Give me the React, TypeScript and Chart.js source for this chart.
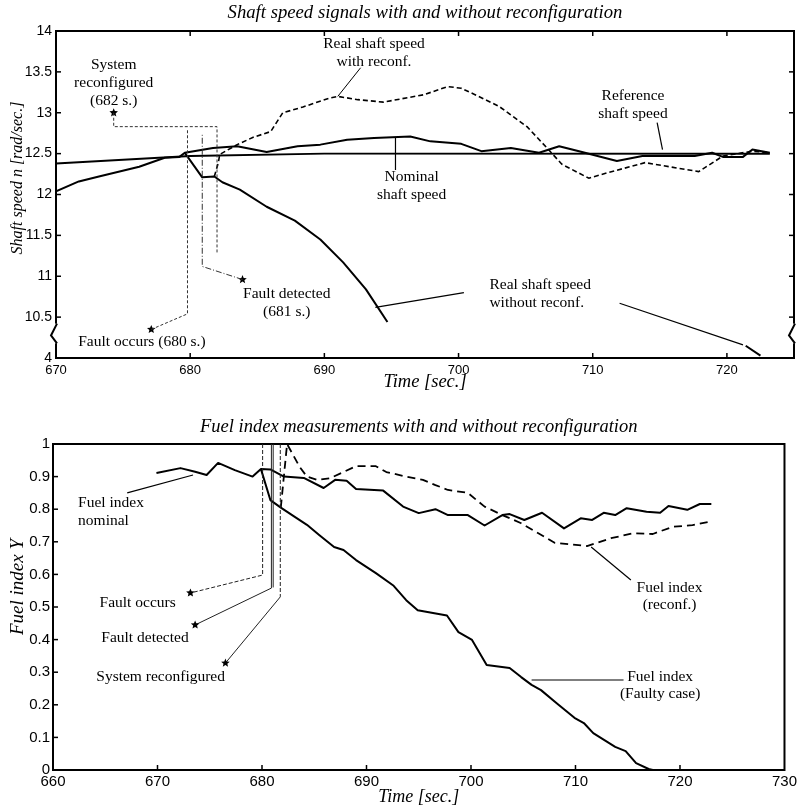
import React, { useEffect, useRef } from 'react';
import { Chart, registerables } from 'chart.js';

Chart.register(...registerables);

// ---------------- Top chart: shaft speed ----------------
const topXTicks = [670, 680, 690, 700, 710, 720];
const topYTicks = [10, 10.5, 11, 11.5, 12, 12.5, 13, 13.5, 14];
const topYTickLabels = ['4', '10.5', '11', '11.5', '12', '12.5', '13', '13.5', '14'];
// broken axis: values below the break are drawn shifted so that 4 sits on the "4" tick
const BREAK_LOW = 10;
const BREAK_SHIFT = 6;

const refTime = [670, 680, 690, 723.2];
const refSpeed = [12.38, 12.47, 12.5, 12.5];

const nomTime = [670, 671.7, 673.2, 676.2, 678.1, 679.2, 679.6, 681.7, 683.5, 685.7, 688.0, 689.7, 691.7, 693.7, 696.4, 697.9, 700.2, 701.7, 703.9, 706.0, 707.5, 709.2, 711.8, 713.7, 717.6, 718.9, 719.7, 721.2, 721.9, 723.2];
const nomSpeed = [12.04, 12.16, 12.22, 12.34, 12.45, 12.46, 12.51, 12.57, 12.59, 12.52, 12.59, 12.61, 12.67, 12.69, 12.71, 12.65, 12.62, 12.53, 12.57, 12.51, 12.59, 12.52, 12.41, 12.47, 12.47, 12.51, 12.46, 12.46, 12.55, 12.51];

const faultTime = [679.6, 680.9, 681.8, 682.4, 683.7, 685.7, 687.8, 689.7, 691.4, 693.1, 694.7];
const faultSpeed = [12.51, 12.21, 12.22, 12.15, 12.06, 11.85, 11.68, 11.45, 11.17, 10.84, 10.44];
const faultTailTime = [721.4, 722.5];
const faultTailSpeed = [4.15, 4.03];

const reconfTime = [681.8, 682.1, 682.2, 683.5, 684.7, 686.0, 686.9, 688.4, 690.4, 691.0, 692.5, 694.4, 697.4, 699.2, 700.2, 701.5, 703.0, 705.1, 706.7, 707.7, 709.7, 711.2, 713.9, 715.7, 717.9, 719.7, 721.9, 723.2];
const reconfSpeed = [12.22, 12.39, 12.49, 12.61, 12.7, 12.77, 13.0, 13.07, 13.18, 13.2, 13.16, 13.13, 13.22, 13.32, 13.3, 13.2, 13.08, 12.83, 12.55, 12.37, 12.2, 12.27, 12.39, 12.34, 12.28, 12.47, 12.53, 12.51];

// ---------------- Bottom chart: fuel index ----------------
const botXTicks = [660, 670, 680, 690, 700, 710, 720, 730];
const botYTicks = [0, 0.1, 0.2, 0.3, 0.4, 0.5, 0.6, 0.7, 0.8, 0.9, 1];
const botYTickLabels = ['0', '0.1', '0.2', '0.3', '0.4', '0.5', '0.6', '0.7', '0.8', '0.9', '1'];

const fuelNomTime = [669.9, 672.2, 673.6, 674.7, 675.8, 677.4, 679.1, 679.9, 680.8, 682.1, 684.0, 685.9, 687.0, 688.1, 689.0, 691.6, 693.5, 695.0, 696.6, 697.8, 699.7, 701.3, 703.0, 703.7, 705.1, 706.8, 708.9, 710.5, 711.6, 712.7, 713.8, 714.9, 716.8, 718.1, 718.9, 720.7, 721.9, 723.0];
const fuelNomValue = [0.911, 0.926, 0.915, 0.905, 0.942, 0.92, 0.9, 0.923, 0.922, 0.9, 0.896, 0.865, 0.89, 0.887, 0.862, 0.857, 0.808, 0.788, 0.8, 0.782, 0.782, 0.75, 0.782, 0.785, 0.767, 0.789, 0.741, 0.772, 0.767, 0.789, 0.782, 0.803, 0.792, 0.789, 0.81, 0.798, 0.816, 0.816];

const fuelFaultTime = [679.9, 680.8, 681.8, 683.1, 684.3, 685.5, 686.9, 687.8, 689.0, 690.9, 692.6, 693.8, 694.9, 697.7, 698.8, 700.1, 701.5, 703.7, 704.8, 705.8, 706.7, 708.2, 709.9, 710.8, 711.7, 713.8, 714.8, 715.8, 717.0, 717.4, 722.9];
const fuelFaultValue = [0.923, 0.828, 0.805, 0.777, 0.752, 0.72, 0.684, 0.675, 0.644, 0.604, 0.565, 0.521, 0.49, 0.474, 0.423, 0.399, 0.322, 0.313, 0.285, 0.261, 0.245, 0.205, 0.16, 0.144, 0.113, 0.071, 0.058, 0.021, 0.003, 0, 0];

const fuelReconfTime = [681.8, 682.4, 683.6, 684.3, 685.3, 686.5, 687.8, 689.0, 690.9, 691.9, 693.8, 695.4, 696.6, 697.8, 699.7, 701.3, 703.0, 704.8, 707.0, 708.0, 711.1, 713.4, 715.5, 717.4, 719.3, 721.2, 722.9];
const fuelReconfValue = [0.805, 1.0, 0.93, 0.9, 0.89, 0.895, 0.914, 0.932, 0.932, 0.914, 0.9, 0.89, 0.874, 0.859, 0.85, 0.808, 0.782, 0.757, 0.716, 0.697, 0.687, 0.711, 0.726, 0.724, 0.746, 0.751, 0.762];

// ---------------- helpers ----------------
const SERIF = '"Liberation Serif", "Times New Roman", serif';
const SANS = '"Liberation Sans", Arial, sans-serif';

const shiftBelowBreak = (v: number) => (v < BREAK_LOW ? v + BREAK_SHIFT : v);

function toPoints(ts: number[], vs: number[], map?: (v: number) => number) {
  return ts.map((t, i) => ({ x: t, y: map ? map(vs[i]) : vs[i] }));
}

function pt(chart: any, t: number, v: number): [number, number] {
  return [chart.scales.x.getPixelForValue(t), chart.scales.y.getPixelForValue(v)];
}

function path(ctx: CanvasRenderingContext2D, chart: any, pts: [number, number][], width = 1, dash: number[] = [], color = '#222') {
  ctx.save();
  ctx.beginPath();
  ctx.lineWidth = width;
  ctx.setLineDash(dash);
  ctx.strokeStyle = color;
  pts.forEach((p, i) => {
    const [x, y] = pt(chart, p[0], p[1]);
    if (i === 0) ctx.moveTo(x, y);
    else ctx.lineTo(x, y);
  });
  ctx.stroke();
  ctx.restore();
}

function star(ctx: CanvasRenderingContext2D, chart: any, t: number, v: number, r = 4.5) {
  const [cx, cy] = pt(chart, t, v);
  ctx.save();
  ctx.beginPath();
  for (let i = 0; i < 10; i++) {
    const rad = i % 2 === 0 ? r : r * 0.45;
    const ang = -Math.PI / 2 + (i * Math.PI) / 5;
    const x = cx + rad * Math.cos(ang);
    const y = cy + rad * Math.sin(ang);
    if (i === 0) ctx.moveTo(x, y);
    else ctx.lineTo(x, y);
  }
  ctx.closePath();
  ctx.fillStyle = '#000';
  ctx.fill();
  ctx.restore();
}

function text(ctx: CanvasRenderingContext2D, chart: any, t: number, v: number, lines: string[], align: CanvasTextAlign = 'center', size = 15.5, lh = 18) {
  const [x, y] = pt(chart, t, v);
  ctx.save();
  ctx.font = `${size}px ${SERIF}`;
  ctx.fillStyle = '#000';
  ctx.textAlign = align;
  ctx.textBaseline = 'middle';
  lines.forEach((s, i) => ctx.fillText(s, x, y + i * lh));
  ctx.restore();
}

function seg(ctx: CanvasRenderingContext2D, x1: number, y1: number, x2: number, y2: number) {
  ctx.beginPath();
  ctx.moveTo(x1, y1);
  ctx.lineTo(x2, y2);
  ctx.stroke();
}

function italic(ctx: CanvasRenderingContext2D, s: string, x: number, y: number, size: number, rotate = false) {
  ctx.save();
  ctx.font = `italic ${size}px ${SERIF}`;
  ctx.fillStyle = '#000';
  ctx.textAlign = 'center';
  ctx.textBaseline = 'middle';
  ctx.translate(x, y);
  if (rotate) ctx.rotate(-Math.PI / 2);
  ctx.fillText(s, 0, 0);
  ctx.restore();
}

function breakMark(ctx: CanvasRenderingContext2D, x: number, y0: number, y1: number) {
  ctx.save();
  ctx.fillStyle = '#fff';
  ctx.fillRect(x - 2, y0, 4, y1 - y0);
  ctx.strokeStyle = '#000';
  ctx.lineWidth = 2;
  ctx.beginPath();
  ctx.moveTo(x + 1, y0);
  ctx.lineTo(x - 5, y0 + (y1 - y0) * 0.6);
  ctx.lineTo(x + 1, y1);
  ctx.stroke();
  ctx.restore();
}

const topPlugin = {
  id: 'topDecor',
  afterDraw(chart: any) {
    const ctx: CanvasRenderingContext2D = chart.ctx;
    const a = chart.chartArea;
    const xs = chart.scales.x;
    const ys = chart.scales.y;
    ctx.save();
    ctx.strokeStyle = '#000';
    ctx.lineWidth = 2;
    ctx.strokeRect(a.left, a.top, a.right - a.left, a.bottom - a.top);
    ctx.lineWidth = 1.5;
    topXTicks.forEach((t) => {
      if (t === 670) return;
      const x = xs.getPixelForValue(t);
      seg(ctx, x, a.bottom, x, a.bottom - 5);
      seg(ctx, x, a.top, x, a.top + 5);
    });
    topYTicks.forEach((v) => {
      if (v === 14 || v === 10) return;
      const y = ys.getPixelForValue(v);
      seg(ctx, a.left, y, a.left + 5, y);
      seg(ctx, a.right, y, a.right - 5, y);
    });
    ctx.restore();

    const y0 = ys.getPixelForValue(10.42);
    const y1 = ys.getPixelForValue(10.18);
    breakMark(ctx, a.left, y0, y1);
    breakMark(ctx, a.right, y0, y1);

    // annotations
    text(ctx, chart, 693.7, 13.84, ['Real shaft speed', 'with reconf.']);
    path(ctx, chart, [[692.7, 13.55], [691.0, 13.2]], 1, [], '#000');

    text(ctx, chart, 674.3, 13.585, ['System', 'reconfigured', '(682 s.)']);
    star(ctx, chart, 674.3, 13.0);
    path(ctx, chart, [[674.3, 13.0], [674.3, 12.83], [682.0, 12.83], [682.0, 11.27]], 1, [3, 2], '#333');

    text(ctx, chart, 687.2, 10.78, ['Fault detected', '(681 s.)']);
    star(ctx, chart, 683.9, 10.96);
    path(ctx, chart, [[683.9, 10.96], [680.9, 11.12], [680.9, 12.73]], 1, [6, 2, 1, 2], '#333');

    text(ctx, chart, 676.4, 10.195, ['Fault occurs (680 s.)']);
    star(ctx, chart, 677.1, 10.35);
    path(ctx, chart, [[677.1, 10.35], [679.8, 10.54], [679.8, 12.79]], 1, [3, 2], '#333');

    text(ctx, chart, 696.5, 12.21, ['Nominal', 'shaft speed']);
    path(ctx, chart, [[695.3, 12.7], [695.3, 12.3]], 1.2, [], '#000');

    text(ctx, chart, 713.0, 13.2, ['Reference', 'shaft speed']);
    path(ctx, chart, [[714.8, 12.88], [715.2, 12.55]], 1.2, [], '#000');

    text(ctx, chart, 702.3, 10.89, ['Real shaft speed', 'without reconf.'], 'left');
    path(ctx, chart, [[693.8, 10.62], [700.4, 10.8]], 1.2, [], '#000');
    path(ctx, chart, [[712.0, 10.67], [721.2, 10.16]], 1.2, [], '#000');

    const cx = (a.left + a.right) / 2;
    italic(ctx, 'Shaft speed signals with and without reconfiguration', cx, a.top - 18, 18.7);
    italic(ctx, 'Time [sec.]', cx, a.bottom + 24, 18.5);
    italic(ctx, 'Shaft speed n [rad/sec.]', 18, 178, 16, true);
  },
};

const botPlugin = {
  id: 'botDecor',
  afterDraw(chart: any) {
    const ctx: CanvasRenderingContext2D = chart.ctx;
    const a = chart.chartArea;
    const xs = chart.scales.x;
    const ys = chart.scales.y;
    ctx.save();
    ctx.strokeStyle = '#000';
    ctx.lineWidth = 2;
    ctx.strokeRect(a.left, a.top, a.right - a.left, a.bottom - a.top);
    ctx.lineWidth = 1.5;
    botXTicks.forEach((t) => {
      if (t === 660 || t === 730) return;
      const x = xs.getPixelForValue(t);
      seg(ctx, x, a.bottom, x, a.bottom - 5);
    });
    botYTicks.forEach((v) => {
      if (v === 0 || v === 1) return;
      const y = ys.getPixelForValue(v);
      seg(ctx, a.left, y, a.left + 5, y);
    });
    ctx.restore();

    // fault occurs
    path(ctx, chart, [[680.06, 1], [680.06, 0.598], [673.15, 0.543]], 1, [4, 2], '#222');
    star(ctx, chart, 673.15, 0.543);
    text(ctx, chart, 668.1, 0.512, ['Fault occurs']);
    // fault detected
    path(ctx, chart, [[680.9, 1], [680.9, 0.558], [673.6, 0.445]], 1, [], '#222');
    path(ctx, chart, [[681.07, 1], [681.07, 0.56]], 1, [], '#222');
    star(ctx, chart, 673.6, 0.445);
    text(ctx, chart, 668.8, 0.405, ['Fault detected']);
    // system reconfigured
    path(ctx, chart, [[681.75, 1], [681.75, 0.531]], 1, [4, 2], '#222');
    path(ctx, chart, [[681.75, 0.531], [676.5, 0.328]], 1, [], '#222');
    star(ctx, chart, 676.5, 0.328);
    text(ctx, chart, 670.3, 0.285, ['System reconfigured']);

    text(ctx, chart, 662.4, 0.819, ['Fuel index', 'nominal'], 'left');
    path(ctx, chart, [[667.1, 0.85], [673.4, 0.905]], 1.2, [], '#000');

    text(ctx, chart, 719.0, 0.558, ['Fuel index', '(reconf.)'], 'center', 15.5, 17);
    path(ctx, chart, [[711.5, 0.684], [715.3, 0.583]], 1.2, [], '#000');

    text(ctx, chart, 718.1, 0.285, ['Fuel index', '(Faulty case)'], 'center', 15.5, 17);
    path(ctx, chart, [[705.8, 0.276], [714.6, 0.276]], 1.2, [], '#000');

    const cx = (a.left + a.right) / 2;
    italic(ctx, 'Fuel index measurements with and without reconfiguration', cx, a.top - 17, 18.5);
    italic(ctx, 'Time [sec.]', cx, a.bottom + 27, 18);
    italic(ctx, 'Fuel index Y', 18, 187, 19, true);
  },
};

function axisOpts(min: number, max: number, ticks: number[], labels: string[], size: number, pad: number, fit: (s: any) => void) {
  return {
    type: 'linear',
    min,
    max,
    grid: { display: false, drawTicks: false },
    border: { display: false },
    afterBuildTicks: (s: any) => {
      s.ticks = ticks.map((value) => ({ value }));
    },
    afterFit: fit,
    ticks: {
      font: { family: SANS, size },
      color: '#000',
      padding: pad,
      maxRotation: 0,
      autoSkip: false,
      callback: (_v: any, i: number) => labels[i],
    },
  };
}

const solid = { borderColor: '#000', borderWidth: 2, pointRadius: 0, fill: false };

function makeTopConfig(): any {
  return {
    type: 'line',
    data: {
      datasets: [
        { label: 'Reference shaft speed', data: toPoints(refTime, refSpeed), ...solid },
        { label: 'Nominal shaft speed', data: toPoints(nomTime, nomSpeed), ...solid },
        {
          label: 'Real shaft speed without reconf.',
          data: [
            ...toPoints(faultTime, faultSpeed),
            { x: 708, y: null },
            ...toPoints(faultTailTime, faultTailSpeed, shiftBelowBreak),
          ],
          spanGaps: false,
          ...solid,
        },
        { label: 'Real shaft speed with reconf.', data: toPoints(reconfTime, reconfSpeed), ...solid, borderWidth: 1.6, borderDash: [5, 3] },
      ],
    },
    options: {
      animation: false,
      responsive: false,
      maintainAspectRatio: false,
      events: [],
      elements: { line: { tension: 0, borderJoinStyle: 'round' }, point: { radius: 0 } },
      plugins: { legend: { display: false }, tooltip: { enabled: false }, title: { display: false } },
      layout: { padding: { top: 31, right: 6, left: 0, bottom: 0 } },
      scales: {
        x: axisOpts(670, 725, topXTicks, topXTicks.map(String), 13, 5, (s: any) => { s.height = 42; }),
        y: axisOpts(10, 14, topYTicks, topYTickLabels, 14, 4, (s: any) => { s.width = 56; }),
      },
    },
    plugins: [topPlugin],
  };
}

function makeBotConfig(): any {
  return {
    type: 'line',
    data: {
      datasets: [
        { label: 'Fuel index nominal', data: toPoints(fuelNomTime, fuelNomValue), ...solid },
        { label: 'Fuel index (Faulty case)', data: toPoints(fuelFaultTime, fuelFaultValue), ...solid },
        { label: 'Fuel index (reconf.)', data: toPoints(fuelReconfTime, fuelReconfValue), ...solid, borderWidth: 1.8, borderDash: [8, 5] },
      ],
    },
    options: {
      animation: false,
      responsive: false,
      maintainAspectRatio: false,
      events: [],
      elements: { line: { tension: 0, borderJoinStyle: 'round' }, point: { radius: 0 } },
      plugins: { legend: { display: false }, tooltip: { enabled: false }, title: { display: false } },
      layout: { padding: { top: 44, right: 7, left: 0, bottom: 0 } },
      scales: {
        x: axisOpts(660, 730, botXTicks, botXTicks.map(String), 15, 3, (s: any) => { s.height = 38; }),
        y: axisOpts(0, 1, botYTicks, botYTickLabels, 15, 3, (s: any) => { s.width = 53; }),
      },
    },
    plugins: [botPlugin],
  };
}

function ChartCanvas({ make, width, height }: { make: () => any; width: number; height: number }) {
  const ref = useRef<HTMLCanvasElement | null>(null);
  useEffect(() => {
    if (!ref.current) return;
    const chart = new Chart(ref.current, make());
    return () => chart.destroy();
  }, [make]);
  return <canvas ref={ref} width={width} height={height} style={{ display: 'block', width, height }} />;
}

export default function App() {
  return (
    <div style={{ position: 'absolute', left: 0, top: 0, width: 800, height: 808, background: '#fff' }}>
      <ChartCanvas make={makeTopConfig} width={800} height={400} />
      <ChartCanvas make={makeBotConfig} width={800} height={408} />
    </div>
  );
}
